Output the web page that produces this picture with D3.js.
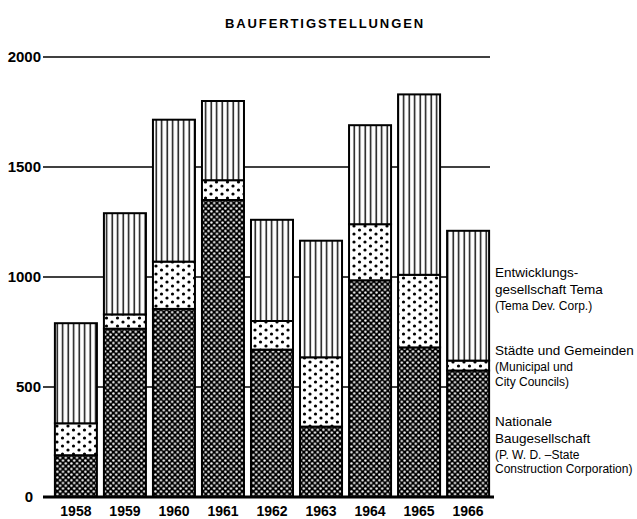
<!DOCTYPE html>
<html>
<head>
<meta charset="utf-8">
<script src="https://cdn.jsdelivr.net/npm/d3@7"></script>
<style>
  body { margin: 0; background: #fff; }
  svg text { fill: #000; }
</style>
</head>
<body>
<div id="chart"></div>
<script>
// years on the x axis
const YEARS = ["1958", "1959", "1960", "1961", "1962", "1963", "1964", "1965", "1966"]

// completions per builder (stacked bottom -> top)
const NATIONALE = [190, 765, 855, 1350, 670, 320, 985, 680, 575]
const STAEDTE = [145, 65, 215, 90, 130, 315, 255, 330, 45]
const TEMA = [455, 460, 645, 360, 460, 530, 450, 820, 590]

const Y_TICKS = [0, 500, 1000, 1500, 2000]
const Y_TICK_LABELS = ["0", "500", "1000", "1500", "2000"]

const TITLE = "BAUFERTIGSTELLUNGEN"

// legend lines: [text, big?]
const LEGEND_TEMA = [["Entwicklungs-", true], ["gesellschaft Tema", true], ["(Tema Dev. Corp.)", false]]
const LEGEND_STAEDTE = [["Städte und Gemeinden", true], ["(Municipal und", false], ["City Councils)", false]]
const LEGEND_NAT = [["Nationale", true], ["Baugesellschaft", true], ["(P. W. D. –State", false], ["Construction Corporation)", false]]

const KEYS = ["nat", "staedte", "tema"]

const W = 637, H = 519
const FONT = "'Liberation Sans', Arial, sans-serif"

const data = YEARS.map((y, i) => ({ year: y, nat: NATIONALE[i], staedte: STAEDTE[i], tema: TEMA[i] }))

const svg = d3.select("#chart").append("svg")
    .attr("width", W)
    .attr("height", H)

/* PATTERNS */
const defs = svg.append("defs")

// dark: black with white dots
const pNat = defs.append("pattern").attr("id", "pat-nat")
    .attr("patternUnits", "userSpaceOnUse").attr("width", 5.6).attr("height", 5.6)
pNat.append("rect").attr("width", 5.6).attr("height", 5.6).attr("fill", "#000")
pNat.append("circle").attr("cx", 1.4).attr("cy", 1.4).attr("r", 1.2).attr("fill", "#fff")
pNat.append("circle").attr("cx", 4.2).attr("cy", 4.2).attr("r", 1.2).attr("fill", "#fff")

// light: white with black dots
const pSt = defs.append("pattern").attr("id", "pat-staedte")
    .attr("patternUnits", "userSpaceOnUse").attr("width", 11).attr("height", 8)
pSt.append("rect").attr("width", 11).attr("height", 8).attr("fill", "#fff")
pSt.append("circle").attr("cx", 2).attr("cy", 2).attr("r", 1.6).attr("fill", "#000")
pSt.append("circle").attr("cx", 7.5).attr("cy", 6).attr("r", 1.6).attr("fill", "#000")

// vertical stripes
const pTe = defs.append("pattern").attr("id", "pat-tema")
    .attr("patternUnits", "userSpaceOnUse").attr("width", 5.5).attr("height", 10)
pTe.append("rect").attr("width", 5.5).attr("height", 10).attr("fill", "#fff")
pTe.append("rect").attr("x", 1.5).attr("width", 1.4).attr("height", 10).attr("fill", "#000")

const FILLS = { nat: "url(#pat-nat)", staedte: "url(#pat-staedte)", tema: "url(#pat-tema)" }

/* SCALES */
const x = d3.scaleBand()
    .domain(YEARS)
    .range([50, 494])
    .paddingInner(0.143)
    .paddingOuter(0.1)

const y = d3.scaleLinear()
    .domain([0, 2000])
    .range([497, 57])

// title
svg.append("text")
    .attr("x", 325)
    .attr("y", 28)
    .attr("text-anchor", "middle")
    .style("font-family", FONT)
    .style("font-size", "13px")
    .style("font-weight", "bold")
    .style("letter-spacing", "1.9px")
    .text(TITLE)

// grid lines (behind bars)
svg.append("g")
    .selectAll("line")
    .data(Y_TICKS.filter(t => t > 0))
    .enter().append("line")
    .attr("x1", 43).attr("x2", 490)
    .attr("y1", d => y(d)).attr("y2", d => y(d))
    .attr("stroke", "#000")
    .attr("stroke-width", 1.3)

// tick labels
svg.append("g")
    .selectAll("text")
    .data(Y_TICKS)
    .enter().append("text")
    .attr("x", d => d === 0 ? 33 : 41)
    .attr("y", d => y(d))
    .attr("dy", "0.36em")
    .attr("text-anchor", "end")
    .style("font-family", FONT)
    .style("font-size", "15px")
    .style("font-weight", "bold")
    .text((d, i) => Y_TICK_LABELS[i])

// stacked bars
const stack = d3.stack().keys(KEYS)
const series = stack(data)

const layers = svg.append("g")
    .selectAll("g")
    .data(series)
    .enter().append("g")
    .attr("fill", d => FILLS[d.key])

layers.selectAll("rect")
    .data(d => d)
    .enter().append("rect")
    .attr("x", d => x(d.data.year))
    .attr("width", x.bandwidth())
    .attr("y", d => y(d[1]))
    .attr("height", d => y(d[0]) - y(d[1]))
    .attr("stroke", "#000")
    .attr("stroke-width", 2)

// baseline
svg.append("line")
    .attr("x1", 43).attr("x2", 494)
    .attr("y1", y(0)).attr("y2", y(0))
    .attr("stroke", "#000")
    .attr("stroke-width", 3)

// year labels
const xAxis = svg.append("g")
    .attr("transform", "translate(0," + (y(0) + 4) + ")")
    .call(d3.axisBottom(x).tickSize(0).tickPadding(5))
xAxis.select(".domain").remove()
xAxis.selectAll("text")
    .style("font-family", FONT)
    .style("font-size", "14px")
    .style("font-weight", "bold")

// legend text
function legend(lines, startY) {
    let yy = startY
    lines.forEach(([t, big], i) => {
        svg.append("text")
            .attr("x", 495)
            .attr("y", yy)
            .style("font-family", FONT)
            .style("font-size", big ? "13.5px" : "12px")
            .text(t)
        const next = lines[i + 1]
        if (next) yy += next[1] ? 16.5 : (big ? 16 : 14.5)
    })
}
legend(LEGEND_TEMA, 277)
legend(LEGEND_STAEDTE, 355)
legend(LEGEND_NAT, 426)
</script>
</body>
</html>
